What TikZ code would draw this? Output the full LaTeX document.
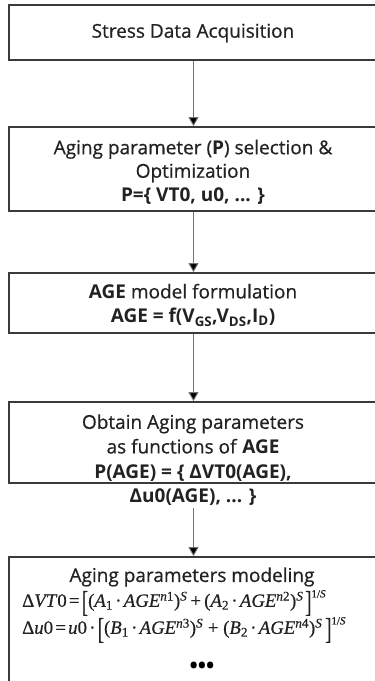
\documentclass[tikz,border=0pt]{standalone}
\usepackage{fontspec}
\usepackage{graphicx}
\setmainfont{Open Sans}[UprightFeatures={FakeBold=0.6}]
\newfontfamily\eqfont{Liberation Serif}[UprightFeatures={FakeBold=0.5},ItalicFeatures={FakeBold=0.5}]
\usetikzlibrary{arrows.meta}
\definecolor{boxline}{HTML}{3A3A3A}
\definecolor{txt}{HTML}{222222}
\newcommand{\bigbr}[1]{\raisebox{-0.27em}{\scalebox{1}[1.6]{#1}}}
\newcommand{\sps}[1]{\textsuperscript{#1}}
\newcommand{\expo}{\raisebox{0.5em}{\fontsize{11}{11}\selectfont 1/\textit{S}}}
\newcommand{\md}{\kern0.12em·\kern0.12em}
\begin{document}
\begin{tikzpicture}[x=1pt,y=-1pt,
  stepbox/.style={draw=boxline,line width=1.8pt,fill=white,inner sep=0pt},
  lbl/.style={text=txt,font=\fontsize{19}{24}\selectfont,align=center,inner sep=0pt},
  eqn/.style={text=txt,font=\eqfont\fontsize{18.8}{20}\selectfont,inner sep=0pt,anchor=west},
  flow/.style={draw=black!55,line width=0.9pt,-{Triangle[length=9pt,width=10pt,fill=black]}}]
\useasboundingbox (0,0) rectangle (375,681);
\clip (0,0) rectangle (375,681);
% boxes
\node[stepbox,minimum width=369pt,minimum height=55pt] (b1) at (193.5,32.5) {};
\node[stepbox,minimum width=369pt,minimum height=84pt] (b2) at (193.5,169) {};
\node[stepbox,minimum width=369pt,minimum height=60pt] (b3) at (193.5,303) {};
\node[stepbox,minimum width=369pt,minimum height=81pt] (b4) at (193.5,442.5) {};
\node[stepbox,minimum width=369pt,minimum height=150pt] (b5) at (193.5,632) {};
% texts
\node[lbl] (t1) at (193,33) {Stress Data Acquisition};
\node[lbl,font=\fontsize{19}{23.5}\selectfont] (t2) at (193,172) {Aging parameter (\textbf{P}) selection \&\\Optimization\\\textbf{P=\{ VT0, u0, ... \}}};
\node[lbl] (t3) at (193,305) {\textbf{AGE} model formulation\\\textbf{AGE = f(V\textsubscript{GS},V\textsubscript{DS},I\textsubscript{D})}};
\node[lbl,font=\fontsize{19}{24.6}\selectfont] (t4) at (193,460) {Obtain Aging parameters\\as functions of \textbf{AGE}\\\textbf{P(AGE) = \{ ΔVT0(AGE),}\\\textbf{Δu0(AGE), ... \}}};
\node[lbl] (t5) at (192,577) {Aging parameters modeling};
\node[eqn] (e1) at (22,603) {Δ\textit{VT}0\kern0.12em=\kern0.12em\bigbr{[}(\textit{A}\textsubscript{1}\md\textit{AGE}\sps{\textit{n}1})\sps{\textit{S}}\,+\,(\textit{A}\textsubscript{2}\md\textit{AGE}\sps{\textit{n}2})\sps{\textit{S}}\kern0.1em\bigbr{]}\expo};
\node[eqn] (e2) at (22,630) {Δ\textit{u}0\kern0.12em=\kern0.12em\textit{u}0\md\bigbr{[}(\textit{B}\textsubscript{1}\md\textit{AGE}\sps{\textit{n}3})\sps{\textit{S}}\kern0.25em+\kern0.25em(\textit{B}\textsubscript{2}\md\textit{AGE}\sps{\textit{n}4})\sps{\textit{S}}\kern0.15em\bigbr{]}\expo};
\node[lbl,font=\bfseries\fontsize{22}{22}\selectfont,text=black] (d5) at (202,668) {•••};
% connectors
\draw[flow] (b1.south) -- (b2.north);
\draw[flow] (b2.south) -- (b3.north);
\draw[flow] (b3.south) -- (b4.north);
\draw[flow] (t4.south -| b4.south) ++(0,2) coordinate (c4) (c4) -- (b5.north);
\end{tikzpicture}
\end{document}
